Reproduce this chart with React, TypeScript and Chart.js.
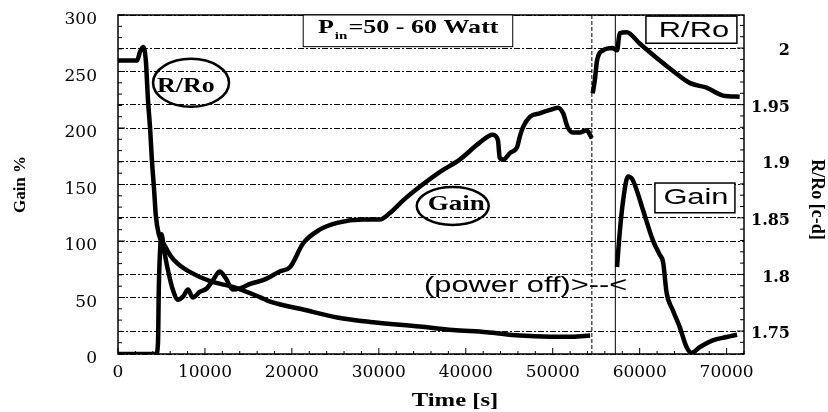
import React, { useEffect, useRef } from 'react';
import { Chart, registerables } from 'chart.js';

Chart.register(...registerables);

// ---------- data ----------
const xTickValues = [0, 10000, 20000, 30000, 40000, 50000, 60000, 70000];
const leftTickStep = 50;
const rightTickStep = 0.05;

// Gain % (left axis), before power off
const gainTime1 = [0, 2000, 4400, 4600, 4700, 4900, 5000, 5300, 5750, 6300, 6900, 7500, 8050, 8600, 9400, 10200, 10900, 11700, 12400, 13200, 14000, 15200, 16900, 18600, 19800, 21300, 23200, 25200, 28200, 30100, 31300, 32800, 34700, 37000, 39300, 41600, 43100, 43700, 43900, 44300, 45100, 45900, 46200, 46600, 47400, 48500, 49700, 50600, 51200, 51700, 52300, 53100, 53900, 54500];
const gainValues1 = [0, 0, 0, 10, 60, 100, 106, 92, 74, 57, 48, 51, 57, 50, 55, 58, 65, 73, 67, 57, 58, 62, 66, 73, 77, 98, 110, 116, 119, 119, 125, 136, 148, 161, 172, 187, 194, 189, 174, 172, 178, 183, 192, 201, 210, 213, 216, 218, 213, 201, 196, 196, 198, 191];

// Gain % after power on
const gainTime2 = [57400, 57700, 58100, 58650, 59200, 60400, 61500, 62300, 62700, 63100, 63800, 64600, 65400, 66000, 66900, 68400, 70000, 71200];
const gainValues2 = [77, 107, 136, 157, 154, 127, 101, 88, 81, 54, 39, 24, 6, 1, 6, 12, 15, 17];

// R/Ro (right axis), before power off
const ratioTime1 = [0, 2200, 2500, 2900, 3200, 3450, 3700, 3900, 4150, 4350, 4700, 5200, 6000, 6800, 8300, 10600, 13200, 16300, 17500, 21300, 25200, 29000, 34700, 38500, 42400, 46200, 49700, 52300, 54300];
const ratioValues1 = [1.989, 1.989, 1.996, 2.001, 1.989, 1.954, 1.928, 1.901, 1.875, 1.852, 1.835, 1.828, 1.817, 1.81, 1.802, 1.794, 1.789, 1.78, 1.776, 1.769, 1.762, 1.758, 1.754, 1.751, 1.749, 1.746, 1.745, 1.745, 1.746];

// R/Ro after power on
const ratioTime2 = [54600, 54850, 55100, 55800, 56900, 57400, 57700, 58500, 60000, 62000, 63800, 65800, 67700, 69600, 71500];
const ratioValues2 = [1.96, 1.972, 1.989, 1.998, 2.0, 1.998, 2.013, 2.014, 2.004, 1.991, 1.98, 1.969, 1.965, 1.958, 1.957];

// power off / power on instants
const powerOffTime = 54500;
const powerOnTime = 57200;

// axis ranges
const xMin = 0;
const xMax = 72000;
const gainMin = 0;
const gainMax = 300;
const ratioMin = 1.7297;
const ratioMax = 2.0292;

// ---------- helpers ----------
const SERIF = "'Liberation Serif', 'Times New Roman', serif";
const SANS = "'Liberation Sans', Arial, sans-serif";
const TICK_SERIF = "'DejaVu Serif', serif";

function zip(xs: number[], ys: number[]) {
  return xs.map((x, i) => ({ x, y: ys[i] }));
}

function stretchText(ctx: CanvasRenderingContext2D, text: string, x: number, y: number, font: string, sx: number, align: 'left' | 'center') {
  ctx.save();
  ctx.font = font;
  ctx.textBaseline = 'middle';
  ctx.textAlign = 'left';
  const w = ctx.measureText(text).width * sx;
  const left = align === 'center' ? x - w / 2 : x;
  ctx.translate(left, y);
  ctx.scale(sx, 1);
  ctx.fillText(text, 0, 0);
  ctx.restore();
  return w;
}

const overlayPlugin = {
  id: 'overlay',
  beforeDatasetsDraw(chart: any) {
    const { ctx, chartArea: a, scales } = chart;
    const X = (v: number) => scales.x.getPixelForValue(v);
    ctx.save();
    ctx.strokeStyle = '#000';
    ctx.lineWidth = 1;
    ctx.setLineDash([4, 2]);
    ctx.beginPath();
    ctx.moveTo(X(powerOffTime), a.top);
    ctx.lineTo(X(powerOffTime), a.bottom);
    ctx.stroke();
    ctx.setLineDash([]);
    ctx.beginPath();
    ctx.moveTo(X(powerOnTime), a.top);
    ctx.lineTo(X(powerOnTime), a.bottom);
    ctx.stroke();
    ctx.restore();
  },
  afterDatasetsDraw(chart: any) {
    const { ctx, chartArea: a, scales } = chart;
    const X = (v: number) => scales.x.getPixelForValue(v);
    const YL = (v: number) => scales.y.getPixelForValue(v);
    const YR = (v: number) => scales.y2.getPixelForValue(v);
    ctx.save();
    ctx.fillStyle = '#000';
    ctx.strokeStyle = '#000';

    // frame
    ctx.lineWidth = 1.5;
    ctx.strokeRect(a.left, a.top, a.right - a.left, a.bottom - a.top);

    // minor ticks
    ctx.lineWidth = 1;
    ctx.beginPath();
    for (let v = gainMin; v <= gainMax; v += 10) {
      const len = v % 50 === 0 ? 7 : 4;
      ctx.moveTo(a.left, YL(v));
      ctx.lineTo(a.left + len, YL(v));
    }
    for (let k = 173; k <= 202; k++) {
      const v = k / 100;
      const len = k % 5 === 0 ? 7 : 4;
      ctx.moveTo(a.right, YR(v));
      ctx.lineTo(a.right - len, YR(v));
    }
    for (let v = xMin; v <= xMax; v += 2000) {
      const len = v % 10000 === 0 ? 6 : 3;
      ctx.moveTo(X(v), a.bottom);
      ctx.lineTo(X(v), a.bottom - len);
    }
    ctx.stroke();

    // P_in box
    const bx0 = X(21300), bx1 = X(45400), by0 = YL(300), by1 = YL(272);
    ctx.fillStyle = '#fff';
    ctx.fillRect(bx0, by0, bx1 - bx0, by1 - by0);
    ctx.fillStyle = '#000';
    ctx.lineWidth = 1;
    ctx.strokeRect(bx0, by0, bx1 - bx0, by1 - by0);
    let tx = X(23000);
    const ty = YL(288);
    tx += stretchText(ctx, 'P', tx, ty, `bold 19px ${SERIF}`, 1.37, 'left') + 1;
    tx += stretchText(ctx, 'in', tx, ty + 8, `bold 11px ${SERIF}`, 1.37, 'left') + 1;
    stretchText(ctx, '=50 - 60 Watt', tx, ty, `bold 19px ${SERIF}`, 1.37, 'left');

    // R/Ro ellipse label
    ctx.lineWidth = 2.5;
    ctx.beginPath();
    ctx.ellipse(X(8400), YL(240), 38, 24, 0, 0, Math.PI * 2);
    ctx.stroke();
    stretchText(ctx, 'R/Ro', X(7800), YL(236), `bold 20px ${SERIF}`, 1.3, 'center');

    // Gain ellipse label
    ctx.beginPath();
    ctx.ellipse(X(38500), YL(131), 36, 19, 0, 0, Math.PI * 2);
    ctx.stroke();
    stretchText(ctx, 'Gain', X(38900), YL(132), `bold 20px ${SERIF}`, 1.35, 'center');

    // boxed labels on the right
    ctx.lineWidth = 1.5;
    const r0 = X(60720), r1 = X(71185), rt = YL(299), rb = YL(275);
    ctx.fillStyle = '#fff';
    ctx.fillRect(r0, rt, r1 - r0, rb - rt);
    ctx.fillStyle = '#000';
    ctx.strokeRect(r0, rt, r1 - r0, rb - rt);
    stretchText(ctx, 'R/Ro', X(66240), YL(286), `22px ${SANS}`, 1.4, 'center');

    const g0 = X(61755), g1 = X(70955), gt = YL(151.3), gb = YL(125);
    ctx.fillStyle = '#fff';
    ctx.fillRect(g0, gt, g1 - g0, gb - gt);
    ctx.fillStyle = '#000';
    ctx.strokeRect(g0, gt, g1 - g0, gb - gt);
    stretchText(ctx, 'Gain', X(66470), YL(138.5), `22px ${SANS}`, 1.4, 'center');

    // power off text
    stretchText(ctx, '(power off)>--<', X(35200), YL(60), `22px ${SANS}`, 1.4, 'left');

    // axis titles
    const midY = (a.top + a.bottom) / 2;
    ctx.save();
    ctx.translate(a.left - 97, midY);
    ctx.rotate(-Math.PI / 2);
    ctx.font = `bold 17px ${SERIF}`;
    ctx.textAlign = 'center';
    ctx.textBaseline = 'middle';
    ctx.fillText('Gain %', 0, 0);
    ctx.restore();

    ctx.save();
    ctx.translate(a.right + 73, midY + 15);
    ctx.rotate(Math.PI / 2);
    ctx.font = `bold 18px ${SERIF}`;
    ctx.textAlign = 'center';
    ctx.textBaseline = 'middle';
    ctx.fillText('R/Ro [c-d]', 0, 0);
    ctx.restore();

    stretchText(ctx, 'Time [s]', (a.left + a.right) / 2 + 24, a.bottom + 47, `bold 19px ${SERIF}`, 1.3, 'center');

    ctx.restore();
  },
};

const lineStyle = {
  borderColor: '#000',
  backgroundColor: '#000',
  borderWidth: 4.5,
  pointRadius: 0,
  fill: false,
  cubicInterpolationMode: 'monotone' as const,
};

export default function App() {
  const canvasRef = useRef<HTMLCanvasElement | null>(null);

  useEffect(() => {
    if (!canvasRef.current) return;
    const chart = new Chart(canvasRef.current, {
      type: 'line',
      data: {
        datasets: [
          { label: 'Gain', data: zip(gainTime1, gainValues1), yAxisID: 'y', ...lineStyle },
          { label: 'Gain (power on)', data: zip(gainTime2, gainValues2), yAxisID: 'y', ...lineStyle },
          { label: 'R/Ro', data: zip(ratioTime1, ratioValues1), yAxisID: 'y2', ...lineStyle },
          { label: 'R/Ro (power on)', data: zip(ratioTime2, ratioValues2), yAxisID: 'y2', ...lineStyle },
        ],
      },
      options: {
        animation: false,
        responsive: true,
        maintainAspectRatio: false,
        layout: { padding: { top: 15, left: 0, right: 38, bottom: 0 } },
        plugins: { legend: { display: false }, tooltip: { enabled: false } },
        scales: {
          x: {
            type: 'linear',
            min: xMin,
            max: xMax,
            grid: { display: false },
            border: { display: false },
            afterBuildTicks: (axis: any) => {
              axis.ticks = xTickValues.map((value) => ({ value }));
            },
            ticks: {
              color: '#000',
              padding: 0,
              maxRotation: 0,
              autoSkip: false,
              font: { family: TICK_SERIF, size: 17 },
              callback: (v: any) => String(v),
            },
            afterFit: (s: any) => { s.height = 58; },
          },
          y: {
            position: 'left',
            min: gainMin,
            max: gainMax,
            grid: { color: '#000', lineWidth: 1, drawTicks: true, tickLength: 19, tickColor: 'rgba(0,0,0,0)' },
            border: { display: false, dash: [6, 2, 2, 2] },
            ticks: {
              stepSize: leftTickStep,
              color: '#000',
              padding: 2,
              labelOffset: 5,
              font: { family: TICK_SERIF, size: 17 },
            },
            afterFit: (s: any) => { s.width = 118; },
          },
          y2: {
            position: 'right',
            min: ratioMin,
            max: ratioMax,
            grid: { color: '#000', lineWidth: 1, drawTicks: false, drawOnChartArea: true },
            border: { display: false, dash: [6, 2, 2, 2] },
            ticks: {
              stepSize: rightTickStep,
              includeBounds: false,
              color: '#000',
              padding: 2,
              labelOffset: 3,
              crossAlign: 'far',
              font: { family: TICK_SERIF, size: 16, weight: 'bold' },
              callback: (v: any) => String(parseFloat(Number(v).toFixed(3))),
            },
            afterFit: (s: any) => { s.width = 46; },
          },
        },
      },
      plugins: [overlayPlugin],
    });
    return () => chart.destroy();
  }, []);

  return (
    <div style={{ position: 'fixed', left: 0, top: 0, width: 828, height: 412, background: '#fff' }}>
      <canvas ref={canvasRef} />
    </div>
  );
}
